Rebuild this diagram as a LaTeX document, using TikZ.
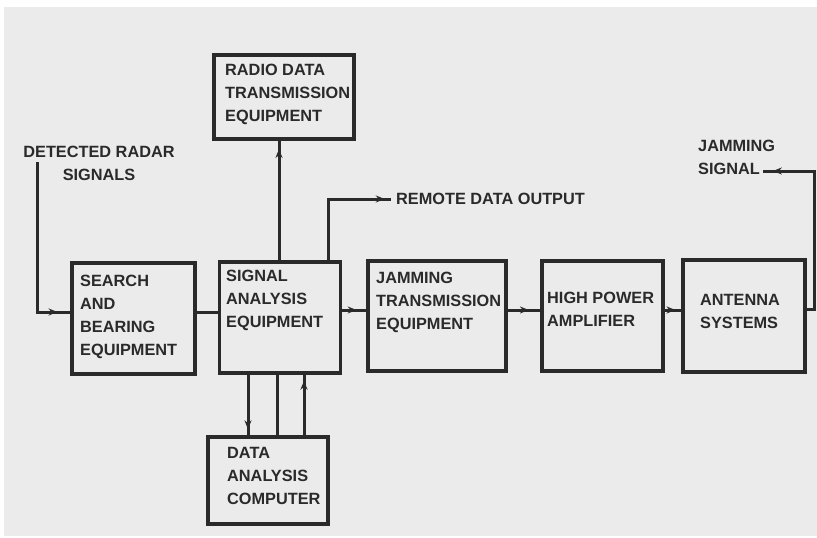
\documentclass[tikz,border=0pt]{standalone}
\usepackage{fontspec}
\setmainfont{Liberation Sans}
\usetikzlibrary{arrows.meta,decorations.markings,positioning}
\definecolor{ink}{HTML}{2A2A2A}
\definecolor{paper}{HTML}{EBEBEB}
\begin{document}
\begin{tikzpicture}[x=1pt,y=-1pt,
  box/.style={draw=ink,line width=3.2pt,rectangle,inner sep=0pt},
  lbl/.style={anchor=north west,align=left,inner sep=0pt,font=\fontsize{16.3}{23}\selectfont\bfseries,text=ink},
  wire/.style={draw=ink,line width=3pt},
  arrowat/.style={postaction={decorate},decoration={markings,mark=at position #1 with {\arrow{Stealth[length=9pt,width=7pt]}}}}
]
\useasboundingbox (0,0) rectangle (817,538);
\fill[white] (0,0) rectangle (817,538);
\fill[paper] (4,7) rectangle (817,536);

% boxes
\node[box,minimum width=123pt,minimum height=111pt] (search) at (133.5,318.5) {};
\node[box,minimum width=121pt,minimum height=111pt] (signal) at (280,317.5) {};
\node[box,minimum width=138pt,minimum height=110pt] (jam) at (437,316) {};
\node[box,minimum width=121pt,minimum height=110pt] (hpa) at (602.5,316) {};
\node[box,minimum width=122pt,minimum height=112pt] (ant) at (744,316) {};
\node[box,minimum width=140pt,minimum height=84pt] (radio) at (284,97) {};
\node[box,minimum width=120pt,minimum height=87pt] (dac) at (268,480.5) {};

% labels
\node[lbl] (tsearch) at (80,275) {SEARCH\\AND\\BEARING\\EQUIPMENT};
\node[lbl] (tsignal) at (226,270) {SIGNAL\\ANALYSIS\\EQUIPMENT};
\node[lbl] (tjam) at (376,272) {JAMMING\\TRANSMISSION\\EQUIPMENT};
\node[lbl] (thpa) at (547,292) {HIGH POWER\\AMPLIFIER};
\node[lbl] (tant) at (700,294) {ANTENNA\\SYSTEMS};
\node[lbl] (tradio) at (225,64) {RADIO DATA\\TRANSMISSION\\EQUIPMENT};
\node[lbl] (tdac) at (227,447) {DATA\\ANALYSIS\\COMPUTER};
\node[lbl,align=center,anchor=north] (tdet) at (99,146) {DETECTED RADAR\\SIGNALS};
\node[lbl,anchor=west] (tremote) at (396,199) {REMOTE DATA OUTPUT};
\node[lbl] (tjs) at (698,140) {JAMMING\\SIGNAL};

% coordinates
\coordinate (detTop) at (37,162);
\coordinate (detCorner) at (37,312);
\coordinate (remCorner) at (328,199);
\coordinate (remEnd) at (391,199);
\coordinate (jsCorner1) at (814,309);
\coordinate (jsCorner2) at (814,171);
\coordinate (jsEnd) at (763,171);

% connectors
\draw[wire,arrowat=0.93] (detTop) -- (detCorner) -- (search.west |- detCorner);
\draw[wire] (search.east |- 0,312) -- (signal.west |- 0,312);
\draw[wire,arrowat=0.6] (signal.east |- 0,310) -- (jam.west |- 0,310);
\draw[wire,arrowat=0.65] (jam.east |- 0,310) -- (hpa.west |- 0,310);
\draw[wire,arrowat=0.65] (hpa.east |- 0,310) -- (ant.west |- 0,310);
\draw[wire,arrowat=0.95] (ant.east |- 0,309) -- (jsCorner1) -- (jsCorner2) -- (jsEnd);
\draw[wire,arrowat=0.93] (signal.north -| 279,0) -- (radio.south -| 279,0);
\draw[wire,arrowat=0.95] (signal.north -| remCorner) -- (remCorner) -- (remEnd);
\draw[wire,arrowat=0.9] (signal.south -| 248,0) -- (dac.north -| 248,0);
\draw[wire] (signal.south -| 277,0) -- (dac.north -| 277,0);
\draw[wire,arrowat=0.9] (dac.north -| 304,0) -- (signal.south -| 304,0);
\end{tikzpicture}
\end{document}
